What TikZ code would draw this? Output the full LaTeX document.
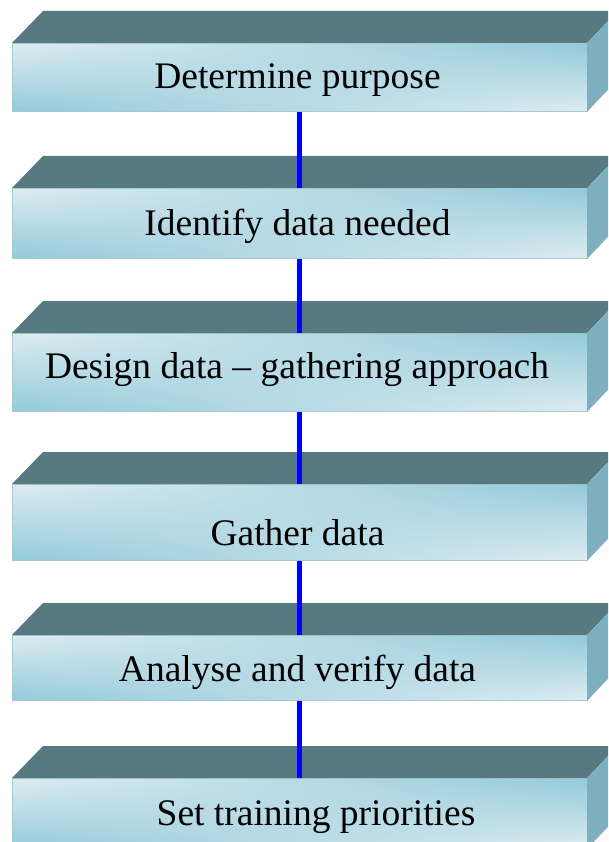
\documentclass[tikz,border=0pt]{standalone}
\usepackage{fontspec}
\setmainfont{Liberation Serif}
\usetikzlibrary{shadings}

\definecolor{slabtop}{HTML}{577A80}
\definecolor{slabside}{HTML}{7DAFBE}
\definecolor{slablight}{HTML}{DDECF1}
\definecolor{slabdark}{HTML}{93CADA}
\definecolor{slabedge}{HTML}{A9C9D2}

\tikzset{
	face/.style={shade, draw=slabedge, line width=.7pt,
		upper left=slablight, upper right=slabdark,
		lower left=slabdark, lower right=slablight,
		minimum width=574.5pt, inner sep=0pt, anchor=north west},
	lbl/.style={anchor=base, inner sep=0pt, font=\fontsize{37.5}{44}\selectfont},
	link/.style={draw=blue, line width=5.5pt},
}

\begin{document}
\begin{tikzpicture}[x=1pt,y=-1pt]
	\useasboundingbox (0,0) rectangle (608,842);
	\clip (0,0) rectangle (608,842);

	% slabs: name/top of front face/height/text x/baseline/text
	\foreach \n/\ytop/\h/\tx/\ty/\txt in {
		1/43/68/297.5/89/Determine purpose,
		2/188/70/297.5/235/Identify data needed,
		3/333/78/297/378/Design data – gathering approach,
		4/484/76/297.5/545/Gather data,
		5/635/65/297.5/681/Analyse and verify data,
		6/778/70/316/825/Set training priorities}
	{
		\node[face, minimum height=\h pt] (b\n) at (12,\ytop) {};
		\fill[slabtop] (b\n.north west) -- ++(31,-32) -- ++(574.5,0) -- (b\n.north east) -- cycle;
		\fill[slabside] (b\n.north east) -- ++(31,-32) -- ++(0,\h) -- (b\n.south east) -- cycle;
		\node[lbl] (t\n) at (\tx,\ty) {\txt};
	}

	\foreach \a/\b in {1/2,2/3,3/4,4/5,5/6}
		\draw[link] (b\a.south) -- (b\b.north);
\end{tikzpicture}
\end{document}
